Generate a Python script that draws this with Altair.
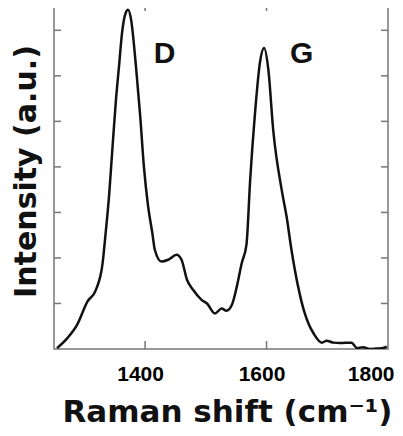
import altair as alt
import pandas as pd

# Raman spectrum (wavenumber in cm^-1, intensity in arbitrary units)
wavenumber = [1255, 1272, 1288, 1305, 1319, 1330, 1335, 1341, 1346, 1352, 1357, 1362, 1368, 1372,
              1377, 1385, 1392, 1398, 1405, 1412, 1416, 1427, 1438, 1452, 1460, 1469, 1479, 1493,
              1502, 1515, 1526, 1534, 1543, 1551, 1559, 1567, 1573, 1581, 1589, 1596, 1603, 1611,
              1625, 1633, 1641, 1652, 1663, 1669, 1678, 1691, 1699, 1710, 1721, 1740, 1749, 1759,
              1770, 1781, 1792, 1798]
intensity = [0.02, 0.24, 0.53, 1.04, 1.30, 1.88, 2.54, 3.42, 4.37, 5.47, 6.20, 6.94, 7.38, 7.45,
             7.23, 6.20, 5.11, 4.01, 3.13, 2.54, 2.18, 1.92, 1.96, 2.07, 1.96, 1.52, 1.30, 1.08,
             1.00, 0.78, 0.89, 0.84, 0.97, 1.37, 1.88, 2.30, 3.71, 5.18, 6.28, 6.61, 6.13, 4.81,
             3.49, 2.91, 2.18, 1.37, 0.78, 0.56, 0.33, 0.14, 0.18, 0.14, 0.13, 0.14, 0.02, 0.04,
             0.00, 0.01, 0.02, 0.05]

peak_names = ["D", "G"]
peak_label_x = [1432, 1658]
peak_label_y = [6.48, 6.48]

x_tick_values = [1400, 1600]
x_label_values = [1400, 1600, 1800]
y_tick_values = [1, 2, 3, 4, 5, 6, 7]

X_DOMAIN = [1250, 1800]
Y_DOMAIN = [0, 7.6]
W, H = 334, 346

spec_df = pd.DataFrame({"wn": wavenumber, "intensity": intensity})
label_df = pd.DataFrame({"wn": peak_label_x, "intensity": peak_label_y, "name": peak_names})
xt_df = pd.DataFrame({"wn": x_tick_values})
yt_df = pd.DataFrame({"intensity": y_tick_values})

xs = alt.Scale(domain=X_DOMAIN, nice=False, zero=False)
ys = alt.Scale(domain=Y_DOMAIN, nice=False, zero=False)

x_axis = alt.Axis(
    values=x_label_values, format="d", ticks=False, tickSize=0, domain=False, grid=False,
    labelFont="Liberation Sans", labelFontWeight="bold", labelFontSize=21, labelColor="#000",
    labelBaseline="alphabetic", labelPadding=31, labelOffset=-5,
    labelFlush=True, labelFlushOffset=11,
    title="Raman shift (cm\u207b\u00b9)", titleFont="DejaVu Sans", titleFontWeight="bold",
    titleFontSize=31, titleColor="#111", titleBaseline="alphabetic", titleAlign="center",
    titleX=173, titleY=72,
)
y_axis = alt.Axis(
    ticks=False, tickSize=0, labels=False, domain=False, grid=False,
    title="Intensity (a.u.)", titleFont="DejaVu Sans", titleFontWeight="bold",
    titleFontSize=30, titleColor="#111", titleBaseline="alphabetic", titleAlign="center",
    titleAngle=270, titleX=-19, titleY=168,
)

line = alt.Chart(spec_df).mark_line(
    color="#111", strokeWidth=2.5, clip=True, interpolate="monotone"
).encode(
    x=alt.X("wn:Q", scale=xs, axis=x_axis),
    y=alt.Y("intensity:Q", scale=ys, axis=y_axis),
)

labels = alt.Chart(label_df).mark_text(
    font="Liberation Sans", fontWeight="bold", fontSize=30, color="#111",
    align="center", baseline="middle",
).encode(
    x=alt.X("wn:Q", scale=xs),
    y=alt.Y("intensity:Q", scale=ys),
    text="name:N",
)

tick_style = dict(color="#777", strokeWidth=1.5)
left_ticks = alt.Chart(yt_df).mark_rule(**tick_style).encode(
    y=alt.Y("intensity:Q", scale=ys), x=alt.value(0), x2=alt.value(7))
right_ticks = alt.Chart(yt_df).mark_rule(**tick_style).encode(
    y=alt.Y("intensity:Q", scale=ys), x=alt.value(W - 7), x2=alt.value(W))
top_ticks = alt.Chart(xt_df).mark_rule(**tick_style).encode(
    x=alt.X("wn:Q", scale=xs), y=alt.value(0), y2=alt.value(8))
bottom_ticks = alt.Chart(xt_df).mark_rule(**tick_style).encode(
    x=alt.X("wn:Q", scale=xs), y=alt.value(H - 8), y2=alt.value(H))

chart = alt.layer(left_ticks, right_ticks, top_ticks, bottom_ticks, line, labels).properties(
    width=W, height=H,
    autosize=alt.AutoSizeParams(type="none"),
    padding={"left": 46, "top": -5, "right": 7, "bottom": 79},
    background="white",
).configure_view(stroke="#777", strokeWidth=1.5)

chart.save("out.html", embed_options={"renderer": "svg", "actions": False})
